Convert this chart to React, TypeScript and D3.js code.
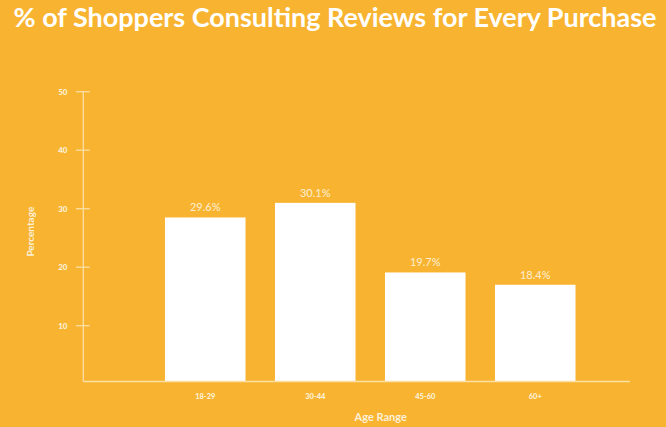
import React from "react";
import * as d3 from "d3";

const categories = ["18-29", "30-44", "45-60", "60+"];
const barValues = [28.5, 31.0, 19.1, 17.0];
const valueLabels = ["29.6%", "30.1%", "19.7%", "18.4%"];
const yTicks = [10, 20, 30, 40, 50];

const W = 666;
const H = 427;
const BG = "#F8B430";
const AXIS = "#FCE0A6";

export default function App() {
  const x = d3
    .scaleBand<string>()
    .domain(categories)
    .range([150.25, 590.25])
    .paddingInner(0.268)
    .paddingOuter(0.134);
  const y = d3.scaleLinear().domain([0, 50]).range([384.2, 91.7]);
  const axisY = 381.5;
  const axisX = 83.3;
  const font = "Lato, 'Open Sans', sans-serif";

  return (
    <svg
      width={W}
      height={H}
      style={{ position: "absolute", left: 0, top: 0, display: "block" }}
    >
      <rect x={0} y={0} width={W} height={H} fill={BG} />
      <text
        x={13.5}
        y={26.5}
        fill="#fff"
        fontFamily={font}
        fontWeight={700}
        fontSize={26.5}
        textLength={643}
        lengthAdjust="spacingAndGlyphs"
      >
        % of Shoppers Consulting Reviews for Every Purchase
      </text>

      {/* bars */}
      {categories.map((c, i) => (
        <rect
          key={c}
          x={x(c)}
          y={y(barValues[i])}
          width={x.bandwidth()}
          height={axisY - y(barValues[i])}
          fill="#fff"
        />
      ))}
      {categories.map((c, i) => (
        <text
          key={c + "l"}
          x={(x(c) as number) + x.bandwidth() / 2}
          y={y(barValues[i]) - 6}
          textAnchor="middle"
          fill="#FDEBCB"
          fontFamily={font}
          fontWeight={500}
          fontSize={11}
        >
          {valueLabels[i]}
        </text>
      ))}

      {/* y axis */}
      <line x1={axisX} x2={axisX} y1={y(50)} y2={axisY} stroke={AXIS} strokeWidth={1.3} />
      {yTicks.map((t) => (
        <g key={t}>
          <line x1={76} x2={89.7} y1={y(t)} y2={y(t)} stroke={AXIS} strokeWidth={1.3} />
          <text
            x={67.5}
            y={y(t)}
            dy="0.35em"
            textAnchor="end"
            fill="#FDF0D8"
            fontFamily={font}
            fontWeight={900}
            fontSize={8}
          >
            {t}
          </text>
        </g>
      ))}

      {/* x axis */}
      <line x1={axisX} x2={630} y1={axisY} y2={axisY} stroke={AXIS} strokeWidth={1.3} />
      {categories.map((c) => (
        <text
          key={c + "t"}
          x={(x(c) as number) + x.bandwidth() / 2}
          y={396}
          dy="0.35em"
          textAnchor="middle"
          fill="#FDF0D8"
          fontFamily={font}
          fontWeight={900}
          fontSize={7.5}
        >
          {c}
        </text>
      ))}

      <text
        x={380.7}
        y={417}
        dy="0.35em"
        textAnchor="middle"
        fill="#FDF0D8"
        fontFamily={font}
        fontWeight={700}
        fontSize={11}
      >
        Age Range
      </text>
      <text
        transform={`translate(30.5,231.7) rotate(-90)`}
        dy="0.35em"
        textAnchor="middle"
        fill="#FDF0D8"
        fontFamily={font}
        fontWeight={700}
        fontSize={10}
      >
        Percentage
      </text>
    </svg>
  );
}
